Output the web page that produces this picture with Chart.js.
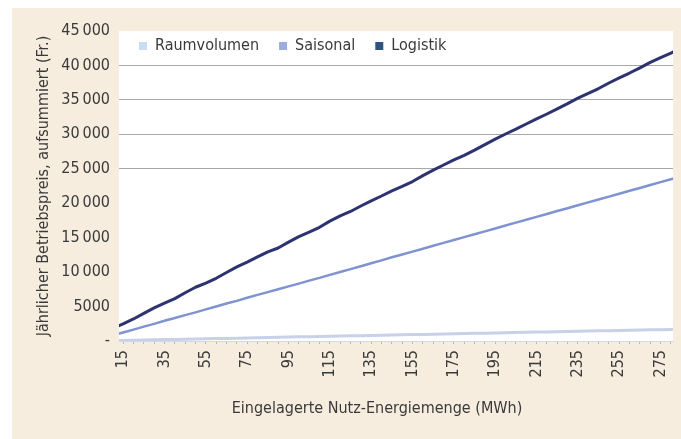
<!DOCTYPE html>
<html>
<head>
<meta charset="utf-8">
<script src="https://cdn.jsdelivr.net/npm/chart.js@4"></script>
<style>
html,body{margin:0;padding:0;background:#fff;}
#panel{position:absolute;left:12px;top:8px;width:669px;height:431px;background:#f6eddf;}
canvas{display:block;}
</style>
</head>
<body>
<div id="panel"><canvas id="chart" width="669" height="431"></canvas></div>
<script>
// Eingelagerte Nutz-Energiemenge (MWh)
const mwh = [13, 15, 20, 25, 30, 35, 40, 45, 50, 55, 60, 65, 70, 75, 80, 85, 90, 95, 100,
  105, 110, 115, 120, 125, 130, 135, 140, 145, 150, 155, 160, 165, 170, 175, 180, 185, 190,
  195, 200, 205, 210, 215, 220, 225, 230, 235, 240, 245, 250, 255, 260, 265, 270, 275, 280, 281];

// Jährlicher Betriebspreis, aufsummiert (Fr.)
const raumvolumen = [70, 80, 110, 140, 170, 200, 230, 270, 300, 330, 350, 380, 410, 450, 480, 510, 540, 570, 600,
  630, 660, 690, 720, 750, 780, 810, 840, 870, 900, 930, 960, 990, 1020, 1050, 1080, 1110, 1140,
  1170, 1200, 1230, 1260, 1290, 1320, 1350, 1380, 1410, 1440, 1470, 1500, 1530, 1560, 1590, 1620, 1650, 1680, 1690];
const saisonal = [1070, 1240, 1650, 2080, 2490, 2930, 3330, 3760, 4150, 4590, 5000, 5440, 5830, 6270, 6700, 7100, 7520, 7930, 8330,
  8760, 9160, 9600, 10020, 10440, 10860, 11280, 11700, 12150, 12560, 12980, 13390, 13820, 14240, 14660, 15080, 15500, 15920,
  16340, 16760, 17180, 17600, 18020, 18440, 18860, 19280, 19700, 20120, 20540, 20960, 21380, 21800, 22220, 22640, 23060, 23480, 23560];
const logistik = [2220, 2500, 3200, 4000, 4800, 5500, 6150, 7000, 7800, 8400, 9100, 9950, 10750, 11450, 12200, 12950, 13500, 14350, 15150,
  15800, 16500, 17400, 18150, 18800, 19600, 20350, 21050, 21800, 22450, 23150, 24000, 24800, 25550, 26300, 26950, 27700, 28500,
  29300, 30050, 30750, 31500, 32250, 32950, 33700, 34450, 35250, 35950, 36650, 37450, 38200, 38900, 39650, 40450, 41150, 41800, 41950];

const xLabels = [15, 35, 55, 75, 95, 115, 135, 155, 175, 195, 215, 235, 255, 275];
const yTicks = [0, 5000, 10000, 15000, 20000, 25000, 30000, 35000, 40000, 45000];

const font = '"DejaVu Sans Condensed", "Liberation Sans Narrow", sans-serif';
const textColor = '#3a3a3a';

function fmt(v){
    if(v === 0) return '-';
    if(v >= 10000) return Math.floor(v/1000) + '\u2009' + String(v%1000).padStart(3,'0');
    return String(v);
}

const plotBg = {
    id: 'plotBg',
    beforeDraw(chart){
        const {ctx, chartArea: a} = chart;
        ctx.save();
        ctx.fillStyle = '#ffffff';
        ctx.fillRect(a.left, a.top, a.right - a.left, a.bottom - a.top);
        ctx.restore();
    }
};
const xTitle = {
    id: 'xTitle',
    afterDraw(chart){
        const ctx = chart.ctx;
        ctx.save();
        ctx.font = '16px ' + font;
        ctx.fillStyle = textColor;
        ctx.textAlign = 'center';
        ctx.textBaseline = 'middle';
        ctx.fillText('Eingelagerte Nutz-Energiemenge (MWh)', 365, 401);
        ctx.restore();
    }
};
// legend inside the plot, laid out in one row
const legendPlace = {
    id: 'legendPlace',
    afterInit(chart){
        if(chart.legend) chart.legend.isHorizontal = () => true;
    },
    afterLayout(chart){
        const lg = chart.legend, a = chart.chartArea;
        const h = lg.bottom - lg.top;
        lg.left = a.left; lg.right = a.right;
        lg.top = a.top - 13; lg.bottom = lg.top + h;
    }
};

const ds = (label, values, line, box, w) => ({
    label: label,
    data: mwh.map((x, i) => ({x: x, y: values[i]})),
    borderColor: line,
    backgroundColor: box,
    borderWidth: w,
    pointRadius: 0,
    tension: 0,
    borderJoinStyle: 'round',
    borderCapStyle: 'round'
});

new Chart(document.getElementById('chart').getContext('2d'), {
    type: 'line',
    data: {
        datasets: [
            ds('Raumvolumen', raumvolumen, '#c9d1e8', '#c9ddf1', 3),
            ds('Saisonal', saisonal, '#7f92d2', '#9badde', 2.5),
            ds('Logistik', logistik, '#2c3370', '#2e5382', 3)
        ]
    },
    options: {
        responsive: false,
        animation: false,
        devicePixelRatio: 1,
        layout: {padding: {left: 20, top: 23, right: 8, bottom: 0}},
        plugins: {
            tooltip: {enabled: false},
            legend: {
                position: 'chartArea',
                align: 'start',
                labels: {
                    boxWidth: 8, boxHeight: 8, padding: 20, color: textColor,
                    font: {family: font, size: 16},
                    generateLabels: chart => chart.data.datasets.map((d, i) => ({
                        text: d.label, fillStyle: d.backgroundColor, strokeStyle: d.backgroundColor,
                        lineWidth: 0, hidden: false, datasetIndex: i, fontColor: textColor
                    }))
                }
            }
        },
        scales: {
            x: {
                type: 'linear',
                min: 13, max: 281,
                afterFit: s => { s.height = 98; s.paddingLeft = 0; s.paddingRight = 0; },
                afterBuildTicks: s => { s.ticks = mwh.filter(v => (v - 15) % 5 === 0).map(v => ({value: v})); },
                grid: {drawOnChartArea: false, drawTicks: true, tickLength: 3, color: '#b8b8b8'},
                border: {display: true, color: '#d3d8e6', width: 1},
                ticks: {
                    autoSkip: false, minRotation: 90, maxRotation: 90, padding: 6,
                    color: textColor, font: {family: font, size: 16},
                    callback: v => xLabels.includes(v) ? String(v) : ''
                }
            },
            y: {
                min: 0, max: 45000,
                afterFit: s => { s.width = 87; s.paddingTop = 0; s.paddingBottom = 0; },
                afterBuildTicks: s => { s.ticks = yTicks.map(v => ({value: v})); },
                grid: {
                    drawTicks: false,
                    color: c => (c.tick && c.tick.value >= 25000 && c.tick.value < 45000) ? '#a8a8a8' : 'rgba(0,0,0,0)'
                },
                border: {display: false},
                ticks: {
                    padding: 9, color: textColor, font: {family: font, size: 16},
                    callback: v => fmt(v)
                },
                title: {
                    display: true,
                    text: 'Jährlicher Betriebspreis, aufsummiert (Fr.)',
                    color: textColor,
                    font: {family: font, size: 16},
                    padding: {top: 2, bottom: 0}
                }
            }
        }
    },
    plugins: [plotBg, legendPlace, xTitle]
});
</script>
</body>
</html>
